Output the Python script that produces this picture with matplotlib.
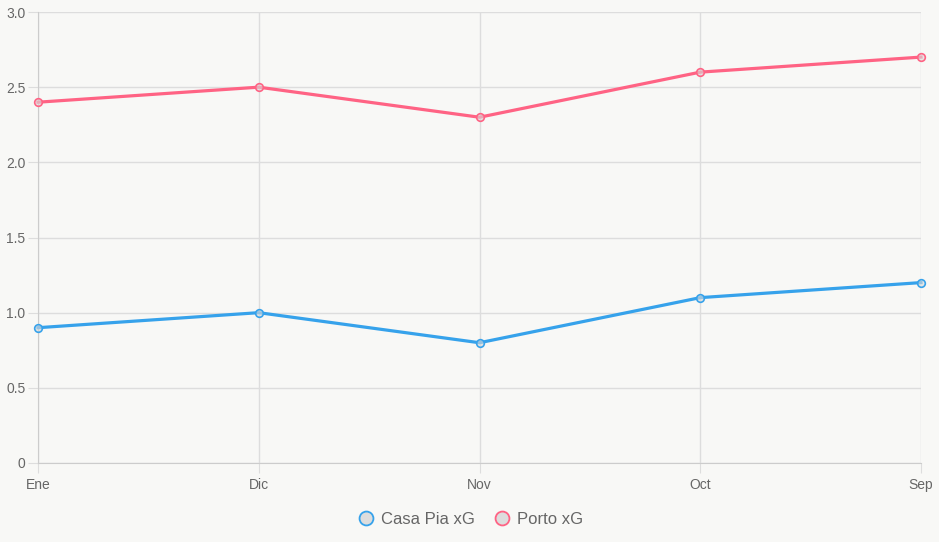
import matplotlib.pyplot as plt
from matplotlib.lines import Line2D

plt.rcParams['font.family'] = ['Liberation Sans', 'DejaVu Sans']

# Datos
meses = ['Ene', 'Dic', 'Nov', 'Oct', 'Sep']
casa_pia_xg = [0.9, 1.0, 0.8, 1.1, 1.2]
porto_xg = [2.4, 2.5, 2.3, 2.6, 2.7]
y_ticks = [0, 0.5, 1.0, 1.5, 2.0, 2.5, 3.0]
y_labels = ['0', '0.5', '1.0', '1.5', '2.0', '2.5', '3.0']

bg = '#f8f8f6'
azul = '#36a2eb'
rojo = '#ff6384'

fig = plt.figure(figsize=(9.39, 5.42), dpi=100, facecolor=bg)
ax = fig.add_axes([38 / 939, 1 - 463 / 542, 883 / 939, 451 / 542], facecolor=bg)

x = range(len(meses))
ax.plot(x, casa_pia_xg, color=azul, lw=2.3, marker='o', ms=5.5,
        mfc=(0.85, 0.85, 0.85, 0.6), mec=azul, mew=1.2, zorder=3, clip_on=False)
ax.plot(x, porto_xg, color=rojo, lw=2.3, marker='o', ms=5.5,
        mfc=(0.85, 0.85, 0.85, 0.6), mec=rojo, mew=1.2, zorder=3, clip_on=False)

ax.set_xlim(0, len(meses) - 1)
ax.set_ylim(0, 3.0)
ax.set_xticks(list(x))
ax.set_xticklabels(meses)
ax.set_yticks(y_ticks)
ax.set_yticklabels(y_labels)

ax.grid(True, color='#dddddd', lw=1)
for s in ax.spines.values():
    s.set_visible(False)
ax.spines['left'].set_visible(True)
ax.spines['bottom'].set_visible(True)
ax.spines['left'].set_color('#cccccc')
ax.spines['bottom'].set_color('#cccccc')
ax.tick_params(length=7, color='#dddddd', labelcolor='#666666', labelsize=10, pad=2)
ax.tick_params(axis='x', pad=4)

handles = [
    Line2D([], [], ls='none', marker='o', ms=10, mfc='#dddddd', mec=azul, mew=1.3),
    Line2D([], [], ls='none', marker='o', ms=10, mfc='#dddddd', mec=rojo, mew=1.3),
]
fig.legend(handles, ['Casa Pia xG', 'Porto xG'], loc='center', bbox_to_anchor=(0.5, 1 - 519 / 542),
           ncol=2, frameon=False, fontsize=12, labelcolor='#666666', handletextpad=0.3,
           columnspacing=1.0, handlelength=1.2)

fig.savefig('out.png', dpi=100, facecolor=bg)
